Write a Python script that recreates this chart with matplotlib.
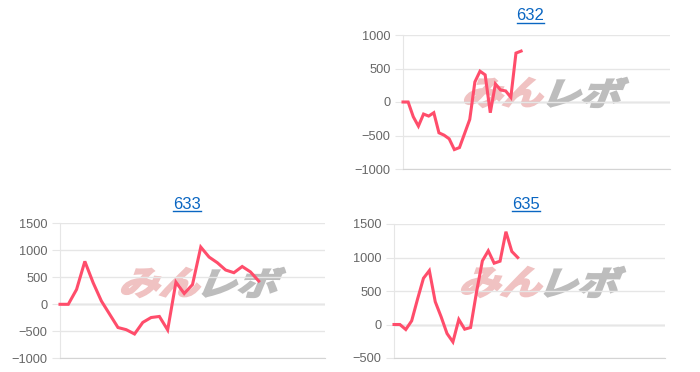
import matplotlib
matplotlib.use("Agg")
import matplotlib.pyplot as plt
from matplotlib.textpath import TextPath
from matplotlib.font_manager import FontProperties
from matplotlib.patches import PathPatch
from matplotlib.transforms import Affine2D, IdentityTransform
from matplotlib.lines import Line2D

# ---- datos ----
titles = ["632", "633", "635"]

y632 = [0, 0, -220, -360, -180, -210, -160, -460, -495, -550, -710, -680,
        -470, -260, 300, 460, 405, -160, 270, 180, 165, 70, 730, 760]
y633 = [0, 0, 275, 795, 400, 60, -185, -430, -470, -550, -335, -245, -225,
        -475, 410, 200, 365, 1060, 875, 770, 635, 585, 700, 600, 430]
y635 = [0, 0, -75, 55, 380, 690, 805, 340, 115, -135, -260, 75, -70, -45,
        480, 950, 1100, 915, 945, 1385, 1090, 1000]

# numero de intervalos del eje x (categorias)
slots = [52, 32, 46]
yticks = [
    [-1000, -500, 0, 500, 1000],
    [-1000, -500, 0, 500, 1000, 1500],
    [-500, 0, 500, 1000, 1500],
]
series = [y632, y633, y635]

LINE = "#ff4d6b"
GRID = "#e6e6e6"
ZERO = "#c4c4c4"
TXT = "#666666"
LINK = "#0a66c2"

W, H = 700, 372
fig = plt.figure(figsize=(W / 100, H / 100), dpi=100)

# posiciones en pixeles (x0, x1, y_top, y_bottom) medidas desde arriba
boxes = [
    (403, 670, 35, 169),
    (60, 325, 223.3, 358.3),
    (394, 665, 224, 358),
]
title_pos = [(530.5, 16), (186.7, 205), (526.3, 205)]
# caja de la marca de agua: (x0_rosa, x1_rosa, x0_gris, x1_gris, y_top, y_bottom)
marks = [
    (465, 543, 548, 628, 78, 107),
    (122, 200, 203, 285, 268, 297),
    (462, 542, 545, 625, 267, 297),
]

cjk = FontProperties(family="Noto Sans CJK JP", weight="bold")


def mark_patch(text, x0, x1, y_top, y_bot, color):
    path = TextPath((0, 0), text, size=40, prop=cjk)
    path = Affine2D().skew_deg(18, 0).transform_path(path)
    ext = path.get_extents()
    ty0, ty1 = H - y_bot, H - y_top
    tr = (Affine2D().translate(-ext.x0, -ext.y0)
          .scale((x1 - x0) / ext.width, (ty1 - ty0) / ext.height)
          .translate(x0, ty0))
    return PathPatch(tr.transform_path(path), facecolor=color, edgecolor=color,
                     lw=1.6, joinstyle="miter",
                     transform=IdentityTransform(), zorder=0.5)


for i, ys in enumerate(series):
    x0, x1, yt, yb = boxes[i]
    ax = fig.add_axes([x0 / W, 1 - yb / H, (x1 - x0) / W, (yb - yt) / H])
    ax.set_facecolor("none")
    ax.plot(range(len(ys)), ys, color=LINE, lw=2.2, solid_joinstyle="miter",
            zorder=3, clip_on=False)
    ax.set_xlim(0, slots[i])
    ax.set_ylim(yticks[i][0], yticks[i][-1])
    ax.set_yticks(yticks[i])
    ax.set_xticks([])
    ax.grid(axis="y", color=GRID, lw=1.0, zorder=0)
    ax.axhline(0, color=ZERO, lw=1.0, zorder=1)
    ax.tick_params(axis="y", length=6, color=GRID, pad=3, labelsize=9.2,
                   labelcolor=TXT)
    for lab in ax.get_yticklabels():
        lab.set_fontfamily("Liberation Sans")
    for s in ["top", "right"]:
        ax.spines[s].set_visible(False)
    ax.spines["left"].set_color(GRID)
    ax.spines["bottom"].set_color("#d4d4d4")

    px0, px1, gx0, gx1, my0, my1 = marks[i]
    ax.add_artist(mark_patch("みん", px0, px1, my0, my1, "#f0c2c2"))
    ax.add_artist(mark_patch("レボ", gx0, gx1, my0, my1, "#bdbdbd"))

# titulos (links subrayados)
tts = []
for i, t in enumerate(titles):
    tx, ty = title_pos[i]
    tts.append(fig.text(tx / W, 1 - ty / H, t, ha="center", va="center",
                        color=LINK, fontsize=12, family="Liberation Sans"))

fig.canvas.draw()
r = fig.canvas.get_renderer()
for t in tts:
    bb = t.get_window_extent(r)
    yy = bb.y0 + 1.0
    fig.add_artist(Line2D([bb.x0, bb.x1], [yy, yy], color=LINK, lw=1.0,
                          transform=IdentityTransform()))

fig.savefig("out.png", dpi=100)
